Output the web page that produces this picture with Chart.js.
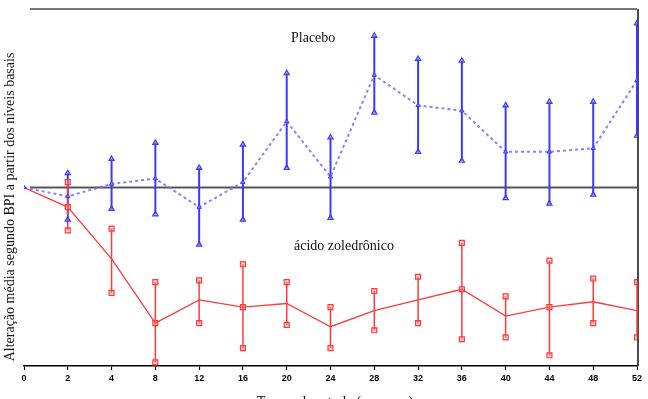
<!DOCTYPE html>
<html>
<head>
<meta charset="utf-8">
<script src="https://cdn.jsdelivr.net/npm/chart.js@4/dist/chart.umd.min.js"></script>
<style>
  html,body{margin:0;padding:0;background:#fff;}
  #wrap{width:648px;height:399px;position:relative;}
</style>
</head>
<body>
<div id="wrap"><canvas id="c"></canvas></div>
<script>
/* ===== DATA ===== */
const weeks = ['0','2','4','8','12','16','20','24','28','32','36','40','44','48','52'];

const placeboMean  = [0, -0.5, 0.2, 0.5, -1.1, 0.3, 3.7, 0.6, 6.3, 4.6, 4.3, 2.0, 2.0, 2.2, 6.0];
const placeboUpper = [null, 0.8, 1.6, 2.5, 1.1, 2.4, 6.4, 2.8, 8.5, 7.2, 7.1, 4.6, 4.8, 4.8, 9.2];
const placeboLower = [null, -1.8, -1.2, -1.5, -3.2, -1.8, 1.1, -1.7, 4.2, 2.0, 1.5, -0.6, -0.9, -0.4, 2.9];

const zolMean  = [0, -1.1, -4.0, -7.6, -6.3, -6.7, -6.5, -7.8, -6.9, -6.3, -5.7, -7.2, -6.7, -6.4, -6.9];
const zolUpper = [null, 0.3, -2.3, -5.3, -5.2, -4.3, -5.3, -6.7, -5.8, -5.0, -3.1, -6.1, -4.1, -5.1, -5.3];
const zolLower = [null, -2.4, -5.9, -9.8, -7.6, -9.0, -7.7, -9.0, -8.0, -7.6, -8.5, -8.4, -9.4, -7.6, -8.4];

const BLUE = '#3a3aff', BLUE_LT = 'rgba(110,110,255,0.85)', RED = '#ff3a3a';

/* ===== HELPERS ===== */
const pts = arr => arr.map((v,i) => ({x:i, y:v}));
const serif = '"Liberation Serif", "Times New Roman", serif';

/* error bars + decorations */
const deco = {
  id:'deco',
  beforeDatasetsDraw(chart){
    const {ctx, chartArea:a, scales:{x,y}} = chart;
    ctx.save();
    // top border
    ctx.strokeStyle='#777'; ctx.lineWidth=2;
    ctx.beginPath(); ctx.moveTo(a.left+6,a.top); ctx.lineTo(a.right,a.top); ctx.stroke();
    // right border
    ctx.strokeStyle='#111'; ctx.lineWidth=1.5;
    ctx.beginPath(); ctx.moveTo(a.right+1,a.top); ctx.lineTo(a.right+1,a.bottom); ctx.stroke();
    // zero line
    const y0=y.getPixelForValue(0);
    ctx.strokeStyle='#555'; ctx.lineWidth=2;
    ctx.beginPath(); ctx.moveTo(a.left+6,y0); ctx.lineTo(a.right,y0); ctx.stroke();
    // error bars
    const bars=(lo,hi,col,w)=>{
      ctx.strokeStyle=col; ctx.lineWidth=w;
      lo.forEach((v,i)=>{
        if(v==null) return;
        const px=x.getPixelForValue(i);
        ctx.beginPath(); ctx.moveTo(px,y.getPixelForValue(v)); ctx.lineTo(px,y.getPixelForValue(hi[i])); ctx.stroke();
      });
    };
    bars(placeboLower,placeboUpper,BLUE,2);
    bars(zolLower,zolUpper,RED,1.5);
    ctx.restore();
  },
  afterDraw(chart){
    const {ctx} = chart;
    ctx.save();
    ctx.fillStyle='#111';
    ctx.font='14px '+serif;
    ctx.textBaseline='middle';
    ctx.textAlign='left';
    ctx.fillText('Placebo',291,38);
    ctx.fillText('ácido zoledrônico',294,246);
    ctx.textAlign='center';
    ctx.fillText('Tempo do estudo (semanas)',335,402);
    ctx.font='14px '+serif;
    ctx.translate(10,207); ctx.rotate(-Math.PI/2);
    ctx.fillText('Alteração média segundo BPI a partir dos níveis basais',0,0);
    ctx.restore();
  }
};

/* ===== CHART ===== */
new Chart(document.getElementById('c'),{
  type:'line',
  data:{
    datasets:[
      {label:'Placebo', data:pts(placeboMean), borderColor:BLUE_LT, borderWidth:2, borderDash:[3,3],
       pointStyle:'triangle', pointRadius:2.5, pointBorderColor:BLUE, pointBackgroundColor:'rgba(140,140,255,0.6)', pointBorderWidth:1},
      {label:'Placebo sup', data:pts(placeboUpper), showLine:false,
       pointStyle:'triangle', pointRadius:3, pointBorderColor:BLUE, pointBackgroundColor:'rgba(140,140,255,0.5)', pointBorderWidth:1.2},
      {label:'Placebo inf', data:pts(placeboLower), showLine:false,
       pointStyle:'triangle', pointRadius:3, pointBorderColor:BLUE, pointBackgroundColor:'rgba(140,140,255,0.5)', pointBorderWidth:1.2},
      {label:'ácido zoledrônico', data:pts(zolMean), borderColor:RED, borderWidth:1.3,
       pointStyle:'rect', pointRadius:[0,3.5,0,3.5,0,3.5,0,0,0,0,3.5,0,3.5,0,0], pointBorderColor:RED, pointBackgroundColor:'rgba(255,150,150,0.4)', pointBorderWidth:1.2},
      {label:'zol sup', data:pts(zolUpper), showLine:false,
       pointStyle:'rect', pointRadius:3.5, pointBorderColor:RED, pointBackgroundColor:'rgba(255,150,150,0.4)', pointBorderWidth:1.2},
      {label:'zol inf', data:pts(zolLower), showLine:false,
       pointStyle:'rect', pointRadius:3.5, pointBorderColor:RED, pointBackgroundColor:'rgba(255,150,150,0.4)', pointBorderWidth:1.2}
    ]
  },
  options:{
    responsive:true, maintainAspectRatio:false, animation:false,
    layout:{padding:{left:0,right:11,top:9,bottom:0}},
    plugins:{legend:{display:false}, tooltip:{enabled:false}},
    scales:{
      x:{type:'linear', min:0, max:14,
         ticks:{stepSize:1, autoSkip:false, maxRotation:0, color:'#000', padding:3,
                font:{family:'"Liberation Sans", Arial, sans-serif', size:9, weight:'bold'},
                callback:v=>weeks[v]},
         grid:{drawOnChartArea:false, color:'transparent', tickColor:'#000', tickLength:4, tickWidth:1.2},
         border:{display:true, color:'#000', width:1.5},
         afterFit:s=>{s.height=33;}},
      y:{min:-10, max:10,
         ticks:{display:false},
         grid:{display:false},
         border:{display:false},
         afterFit:s=>{s.width=24;}}
    }
  },
  plugins:[deco]
});
</script>
</body>
</html>
